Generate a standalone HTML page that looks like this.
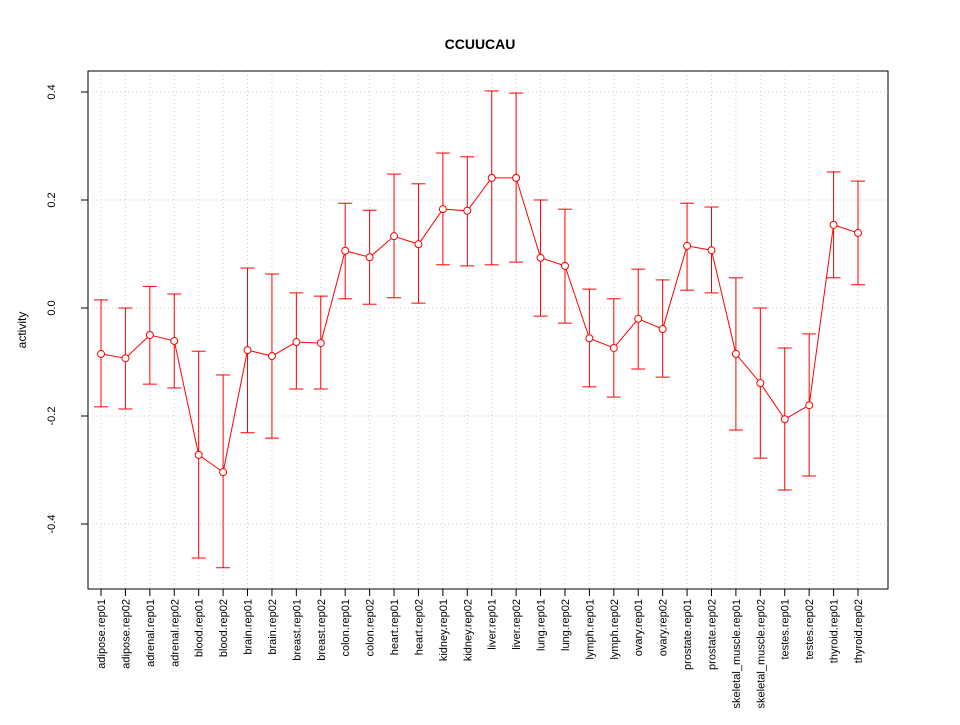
<!DOCTYPE html>
<html><head><meta charset="utf-8"><style>
body{margin:0;background:#fff;}
svg{font-family:"Liberation Sans",Arial,sans-serif;}
</style></head><body>
<svg id="chart" width="960" height="720" xmlns="http://www.w3.org/2000/svg">
<rect width="960" height="720" fill="#fff"/>
<text x="480" y="49" text-anchor="middle" font-size="14" font-weight="bold">CCUUCAU</text>
<text transform="translate(26,330) rotate(-90)" text-anchor="middle" font-size="12">activity</text>
<g id="grid"></g><g id="axes"></g><g id="marks"></g>
<rect x="88" y="71" width="800" height="518" fill="none" stroke="#000"/>
</svg>
<script>
const categories=["adipose.rep01","adipose.rep02","adrenal.rep01","adrenal.rep02","blood.rep01","blood.rep02","brain.rep01","brain.rep02","breast.rep01","breast.rep02","colon.rep01","colon.rep02","heart.rep01","heart.rep02","kidney.rep01","kidney.rep02","liver.rep01","liver.rep02","lung.rep01","lung.rep02","lymph.rep01","lymph.rep02","ovary.rep01","ovary.rep02","prostate.rep01","prostate.rep02","skeletal_muscle.rep01","skeletal_muscle.rep02","testes.rep01","testes.rep02","thyroid.rep01","thyroid.rep02"];
const values=[-0.085,-0.093,-0.05,-0.061,-0.272,-0.304,-0.078,-0.089,-0.063,-0.065,0.106,0.094,0.133,0.118,0.183,0.18,0.241,0.241,0.093,0.078,-0.056,-0.074,-0.02,-0.039,0.115,0.107,-0.085,-0.139,-0.206,-0.18,0.154,0.139];
const upper=[0.015,0.0,0.04,0.026,-0.08,-0.124,0.074,0.063,0.028,0.022,0.194,0.181,0.248,0.23,0.287,0.28,0.402,0.398,0.2,0.183,0.035,0.017,0.072,0.052,0.194,0.187,0.056,0.0,-0.074,-0.048,0.252,0.235];
const lower=[-0.183,-0.187,-0.141,-0.148,-0.463,-0.481,-0.231,-0.241,-0.15,-0.15,0.017,0.007,0.019,0.009,0.08,0.078,0.08,0.085,-0.015,-0.028,-0.146,-0.165,-0.113,-0.128,0.033,0.028,-0.226,-0.278,-0.337,-0.311,0.056,0.043];
const yTicks=[-0.4,-0.2,0.0,0.2,0.4];
const yTickLabels=["-0.4","-0.2","0.0","0.2","0.4"];
const NS="http://www.w3.org/2000/svg";
function xs(i){return 101+i*(858-101)/(categories.length-1);}
function ys(v){return 308-540*v;}
function mk(tag,attrs,parent){const e=document.createElementNS(NS,tag);for(const k in attrs)e.setAttribute(k,attrs[k]);document.getElementById(parent).appendChild(e);return e;}
yTicks.forEach((t,i)=>{
 let g=mk('line',{x1:88,x2:888,y1:ys(t),y2:ys(t),stroke:'#ccc','stroke-dasharray':'1,3'},'grid');
 
 
 let tk=mk('line',{x1:81,x2:88,y1:ys(t),y2:ys(t),stroke:'#000'},'axes');
 
 
 let lb=mk('text',{transform:`translate(55,${ys(t)}) rotate(-90)`,'text-anchor':'middle','font-size':11},'axes');
 lb.textContent=yTickLabels[i];
 
 
});
categories.forEach((c,i)=>{
 const x=xs(i);
 let g=mk('line',{x1:x,x2:x,y1:71,y2:589,stroke:'#ccc','stroke-dasharray':'1,3'},'grid');
 
 
 let tk=mk('line',{x1:x,x2:x,y1:589,y2:596,stroke:'#000'},'axes');
 
 
 let lb=mk('text',{transform:`translate(${x+4},599) rotate(-90)`,'text-anchor':'end','font-size':11},'axes');
 lb.textContent=c;
 
 
});
let pts=values.map((v,i)=>xs(i)+','+ys(v)).join(' ');
let pl=mk('polyline',{points:pts,fill:'none',stroke:'#f00'},'marks');


values.forEach((v,i)=>{
 const x=xs(i);
 let eb=mk('line',{x1:x,x2:x,y1:ys(upper[i]),y2:ys(lower[i]),stroke:'#f00'},'marks');
 
 
 [upper[i],lower[i]].forEach(b=>{
  let cap=mk('line',{x1:x-7,x2:x+7,y1:ys(b),y2:ys(b),stroke:'#f00'},'marks');
  
  
 });
 let p=mk('circle',{cx:x,cy:ys(v),r:3.5,fill:'#fff',stroke:'#f00'},'marks');
 
 
});
</script>
</body></html>
